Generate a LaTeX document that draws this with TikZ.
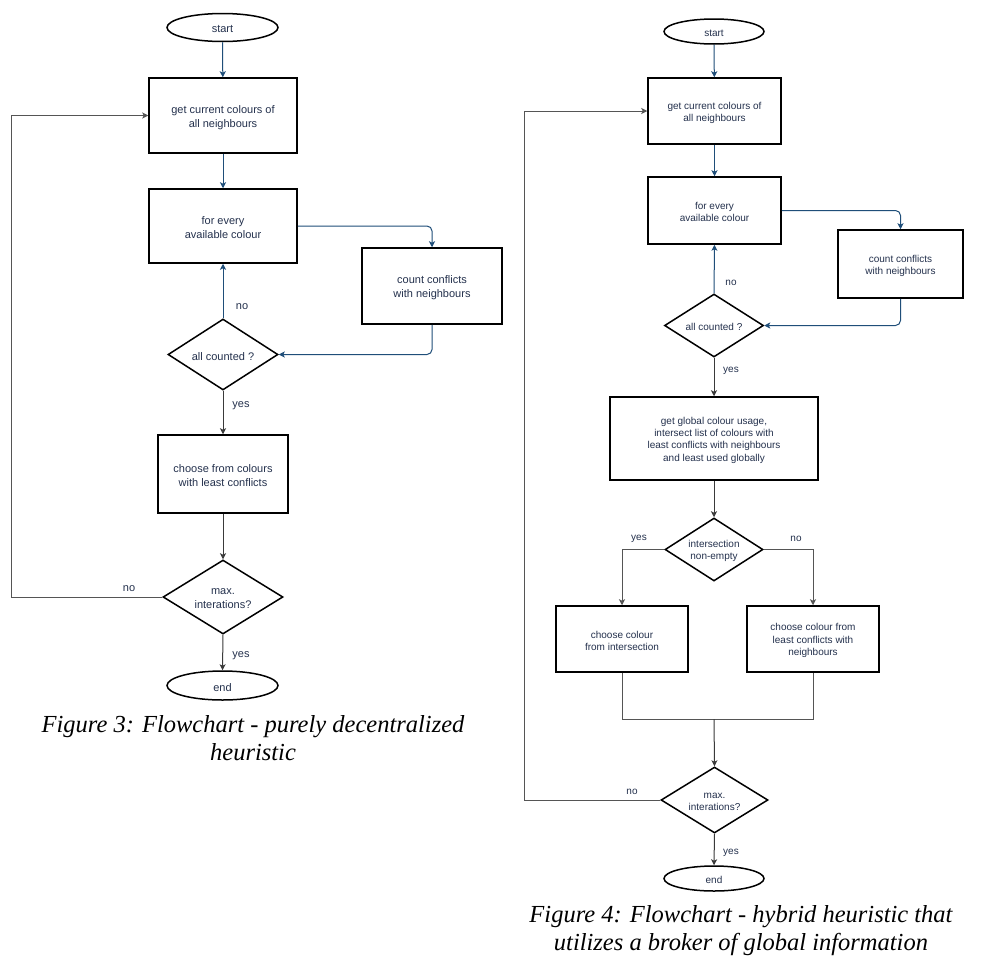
\documentclass[tikz,border=0pt]{standalone}
\usepackage{fontspec}
\setmainfont{Liberation Sans}
\newfontfamily\capfont{Liberation Serif}
\usetikzlibrary{shapes.geometric,arrows.meta}
\definecolor{txtc}{HTML}{24314D}
\definecolor{bluec}{HTML}{1F4E79}
\definecolor{grayc}{HTML}{3A3A3A}
\definecolor{loopc}{HTML}{555555}
\newcommand\dnl[1]{\raisebox{-1.7pt}[\height][\depth]{#1}}
\tikzset{
  every node/.style={text=txtc},
  fa/.style={font=\fontsize{11}{14}\selectfont},
  fb/.style={font=\fontsize{10}{12.3}\selectfont},
  procbox/.style={draw=black,line width=1.5pt,rectangle,inner sep=0pt,align=center},
  decbox/.style={draw=black,line width=1.5pt,diamond,inner sep=0pt,align=center,shape aspect=1.6},
  termbox/.style={draw=black,line width=1.5pt,ellipse,inner sep=0pt,align=center},
  tip/.style={-{Stealth[length=6pt,width=6pt,inset=1.5pt]}},
  bluearrow/.style={tip,draw=bluec,line width=1pt,rounded corners=5pt},
  grayarrow/.style={tip,draw=grayc,line width=1pt},
  loopline/.style={draw=loopc,line width=1pt},
  lbl/.style={inner sep=0pt},
  caption/.style={font=\capfont\itshape\fontsize{24.5}{28}\selectfont,align=center,text=black,inner sep=0pt}
}
\begin{document}
\begin{tikzpicture}[x=1pt,y=-1pt]
\useasboundingbox (0,0) rectangle (982,972);
\fill[white] (0,0) rectangle (982,972);

% ---------------- Figure 3 ----------------
\node[termbox,fa,minimum width=111,minimum height=28] (s1) at (222.5,27.5) {\dnl{start}};
\node[procbox,fa,minimum width=148,minimum height=75] (a1) at (223,115.5) {\dnl{get current colours of}\\\dnl{all neighbours}};
\node[procbox,fa,minimum width=148,minimum height=74] (a2) at (223,226) {\dnl{for every}\\\dnl{available colour}};
\node[procbox,fa,minimum width=140,minimum height=76] (a3) at (432,286) {\dnl{count conflicts}\\\dnl{with neighbours}};
\node[decbox,fa,minimum width=110,minimum height=71] (ad1) at (223,354.5) {\dnl{all counted ?}};
\node[procbox,fa,minimum width=130,minimum height=78] (a4) at (223,474) {\dnl{choose from colours}\\\dnl{with least conflicts}};
\node[decbox,fa,minimum width=120,minimum height=74] (ad2) at (223,597) {\dnl{max.}\\\dnl{interations?}};
\node[termbox,fa,minimum width=111,minimum height=29] (e1) at (222.5,685.5) {\dnl{end}};
\coordinate (al) at (11,597);

\draw[bluearrow] (s1) -- (a1);
\draw[bluearrow] (a1) -- (a2);
\draw[bluearrow] (a2.east) -- (a2.east -| a3.north) -- (a3.north);
\draw[bluearrow] (a3.south) |- (ad1.east);
\draw[bluearrow] (ad1.north) -- (a2.south);
\draw[grayarrow] (ad1.south) -- (a4.north);
\draw[grayarrow] (a4.south) -- (ad2.north);
\draw[grayarrow] (ad2.south) -- (e1.north);
\draw[loopline] (ad2.west) -- (al);
\draw[loopline,tip,draw=loopc] (al) |- (a1.west);

\node[lbl,fa] (an1) at (242,307) {no};
\node[lbl,fa] (ay1) at (241,406) {yes};
\node[lbl,fa] (an2) at (129,589) {no};
\node[lbl,fa] (ay2) at (241,656) {yes};

\node[caption] (cap3) at (253,738) {Figure 3: Flowchart - purely decentralized\\heuristic};

% ---------------- Figure 4 ----------------
\node[termbox,fb,minimum width=100,minimum height=25] (s2) at (714,31.5) {\dnl{start}};
\node[procbox,fb,minimum width=133,minimum height=66] (b1) at (714.5,111) {\dnl{get current colours of}\\\dnl{all neighbours}};
\node[procbox,fb,minimum width=133,minimum height=67] (b2) at (714.5,210.5) {\dnl{for every}\\\dnl{available colour}};
\node[procbox,fb,minimum width=125,minimum height=68] (b3) at (900.5,264) {\dnl{count conflicts}\\\dnl{with neighbours}};
\node[decbox,fb,minimum width=99,minimum height=63] (bd1) at (714,325.5) {\dnl{all counted ?}};
\node[procbox,fb,minimum width=208,minimum height=83] (b4) at (714,438.5) {\dnl{get global colour usage,}\\\dnl{intersect list of colours with}\\\dnl{least conflicts with neighbours}\\\dnl{and least used globally}};
\node[decbox,fb,minimum width=98,minimum height=63] (bd2) at (714,549.5) {\dnl{intersection}\\\dnl{non-empty}};
\node[procbox,fb,minimum width=132,minimum height=66] (c1) at (622,639) {\dnl{choose colour}\\\dnl{from intersection}};
\node[procbox,fb,minimum width=132,minimum height=66] (c2) at (813,639) {\dnl{choose colour from}\\\dnl{least conflicts with}\\\dnl{neighbours}};
\node[decbox,fb,minimum width=107,minimum height=66] (bd3) at (714.5,800) {\dnl{max.}\\\dnl{interations?}};
\node[termbox,fb,minimum width=100,minimum height=25] (e2) at (714,878.5) {\dnl{end}};
\coordinate (m) at (714,719);
\coordinate (bl) at (524,800);

\draw[bluearrow] (s2) -- (b1);
\draw[bluearrow] (b1) -- (b2);
\draw[bluearrow] (b2.east) -- (b2.east -| b3.north) -- (b3.north);
\draw[bluearrow] (b3.south) |- (bd1.east);
\draw[bluearrow] (bd1.north) -- (b2.south);
\draw[grayarrow] (bd1.south) -- (b4.north);
\draw[grayarrow] (b4.south) -- (bd2.north);
\draw[grayarrow,draw=loopc] (bd2.west) -| (c1.north);
\draw[grayarrow,draw=loopc] (bd2.east) -| (c2.north);
\draw[loopline] (c1.south) |- (m);
\draw[loopline] (c2.south) |- (m);
\draw[grayarrow] (m) -- (bd3.north);
\draw[grayarrow] (bd3.south) -- (e2.north);
\draw[loopline] (bd3.west) -- (bl);
\draw[loopline,tip,draw=loopc] (bl) |- (b1.west);

\node[lbl,fb] (bn1) at (731,283) {no};
\node[lbl,fb] (by1) at (731,371) {yes};
\node[lbl,fb] (by2) at (639,539) {yes};
\node[lbl,fb] (bn2) at (796,539) {no};
\node[lbl,fb] (bn3) at (632,792) {no};
\node[lbl,fb] (by3) at (731,853) {yes};

\node[caption] (cap4) at (741,931) {Figure 4: Flowchart - hybrid heuristic that\\utilizes a broker of global information};
\end{tikzpicture}
\end{document}
